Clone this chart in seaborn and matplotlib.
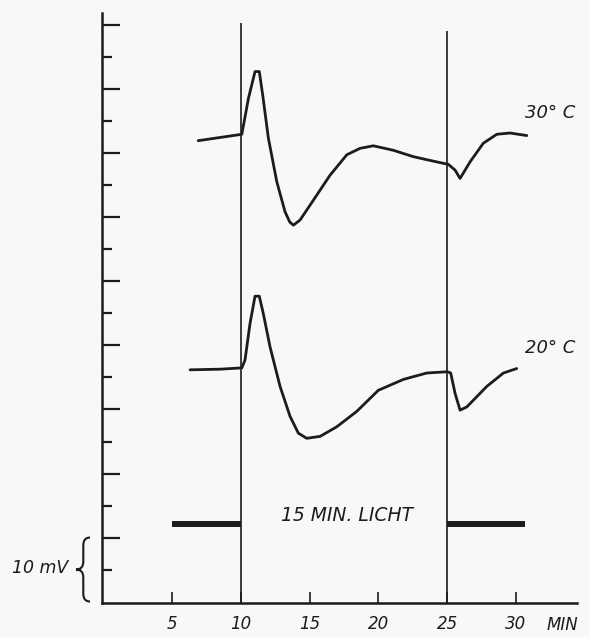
import numpy as np
import pandas as pd
import matplotlib
matplotlib.use("Agg")
import matplotlib.pyplot as plt
from matplotlib.path import Path
from matplotlib.patches import PathPatch
import seaborn as sns

# ---- data ----
time_30 = [6.9, 10.07, 10.55, 11.03, 11.34, 11.59, 12.0, 12.61, 13.21, 13.55, 13.82, 14.30,
           15.27, 16.48, 17.70, 18.66, 19.63, 21.08, 22.54, 23.99, 25.08, 25.57,
           25.93, 26.66, 27.62, 28.60, 29.56, 30.78]
mv_30 = [72.0, 73.0, 78.6, 82.8, 82.8, 79.1, 72.4, 65.6, 60.9, 59.3, 58.8, 59.6,
         62.7, 66.6, 69.8, 70.8, 71.2, 70.5, 69.5, 68.8, 68.3, 67.4,
         66.1, 68.7, 71.6, 73.0, 73.2, 72.8]

time_20 = [6.31, 8.49, 10.07, 10.30, 10.67, 11.03, 11.34, 11.63, 12.12, 12.85, 13.58,
           14.18, 14.79, 15.76, 16.97, 18.42, 19.99, 21.81, 23.51, 25.01, 25.25,
           25.57, 25.93, 26.42, 27.87, 29.08, 30.05]
mv_20 = [36.2, 36.3, 36.5, 37.7, 43.5, 47.7, 47.7, 45.0, 39.8, 33.6, 28.9,
         26.3, 25.5, 25.8, 27.3, 29.7, 33.0, 34.7, 35.7, 35.9, 35.7,
         32.5, 29.9, 30.4, 33.6, 35.7, 36.4]

series_labels = ["30° C", "20° C"]
light_on, light_off = 10, 25
dark_bars = [(5.0, 10.0), (25.0, 30.65)]
dark_bar_level = 12.1
x_ticks = [5, 10, 15, 20, 25, 30]
x_tick_labels = ["5", "10", "15", "20", "25", "30"]
y_major = list(range(10, 100, 10))
y_minor = list(range(5, 90, 10))

df = pd.concat([
    pd.DataFrame({"time": time_30, "mV": mv_30, "temp": series_labels[0]}),
    pd.DataFrame({"time": time_20, "mV": mv_20, "temp": series_labels[1]}),
])

# ---- style ----
sns.set_style("white")
plt.rcParams["font.family"] = ["DejaVu Sans"]
ink = "#1c1c1c"
paper = "#f8f8f6"

fig = plt.figure(figsize=(5.9, 6.37), dpi=100, facecolor=paper)
ax = fig.add_axes([0.1729, 0.0534, 0.8051, 0.9262])
ax.set_facecolor(paper)

sns.lineplot(data=df, x="time", y="mV", hue="temp", units="temp", estimator=None,
             sort=False, palette={series_labels[0]: ink, series_labels[1]: ink},
             linewidth=2.0, legend=False, ax=ax)
for ln in ax.lines:
    ln.set_solid_joinstyle("round")
    ln.set_solid_capstyle("round")

# light on/off vertical lines
ax.vlines([light_on, light_off], ymin=0, ymax=[90.4, 89.1], color=ink, linewidth=1.2)

# dark bars
for x0, x1 in dark_bars:
    ax.plot([x0, x1], [dark_bar_level, dark_bar_level], color=ink, linewidth=4.3,
            solid_capstyle="butt")

ax.set_xlim(-0.09, 34.43)
ax.set_ylim(-0.23, 91.95)

for s in ["top", "right"]:
    ax.spines[s].set_visible(False)
for s in ["left", "bottom"]:
    ax.spines[s].set_linewidth(1.8)
    ax.spines[s].set_color(ink)

ax.set_yticks(y_major)
ax.set_yticks(y_minor, minor=True)
ax.tick_params(axis="y", which="major", left=True, direction="in", length=13,
               width=1.6, color=ink, labelleft=False)
ax.tick_params(axis="y", which="minor", left=True, direction="in", length=7,
               width=1.6, color=ink, labelleft=False)

ax.set_xticks(x_ticks)
ax.set_xticklabels(x_tick_labels)
ax.tick_params(axis="x", which="major", bottom=True, direction="in", length=8,
               width=1.2, color=ink, pad=9, labelsize=12, labelcolor=ink)
for lbl in ax.get_xticklabels():
    lbl.set_style("italic")
ax.set_xlabel("")
ax.set_ylabel("")

txt = dict(color=ink, style="italic", clip_on=False)
ax.text(32.25, -3.7, "MIN", fontsize=12, ha="left", va="center", **txt)
ax.text(30.65, 76.3, series_labels[0], fontsize=13, ha="left", va="center", **txt)
ax.text(30.65, 39.6, series_labels[1], fontsize=13, ha="left", va="center", **txt)
ax.text(17.75, 13.5, "15 MIN. LICHT", fontsize=13.5, ha="center", va="center", **txt)
ax.text(-2.56, 5.2, "10 mV", fontsize=12.5, ha="right", va="center", **txt)

# brace for the 10 mV scale
xr, xm, xt = -0.96, -1.45, -1.98
verts = [(xr, 10.0), (xm, 10.0), (xm, 8.8), (xm, 6.2), (xm, 5.0), (xt, 5.0),
         (xm, 5.0), (xm, 3.8), (xm, 1.2), (xm, 0.0), (xr, 0.0)]
codes = [Path.MOVETO, Path.CURVE3, Path.CURVE3, Path.LINETO, Path.CURVE3, Path.CURVE3,
         Path.CURVE3, Path.CURVE3, Path.LINETO, Path.CURVE3, Path.CURVE3]
ax.add_patch(PathPatch(Path(verts, codes), fill=False, edgecolor=ink, linewidth=1.5,
                       clip_on=False))

fig.savefig("out.png", dpi=100, facecolor=paper)
